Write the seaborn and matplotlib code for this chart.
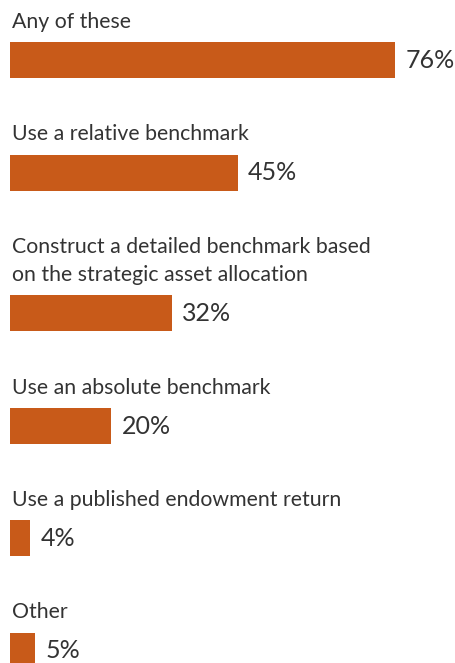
import matplotlib
matplotlib.use("Agg")
import matplotlib.pyplot as plt
import seaborn as sns
import pandas as pd
import numpy as np

# ---- data ----
categories = [
    "Any of these",
    "Use a relative benchmark",
    "Construct a detailed benchmark based\non the strategic asset allocation",
    "Use an absolute benchmark",
    "Use a published endowment return",
    "Other",
]
values = [76, 45, 32, 20, 4, 5]
value_labels = ["76%", "45%", "32%", "20%", "4%", "5%"]

# ---- layout (pixel-based) ----
W, H = 455, 663
DPI = 100
BAR_COLOR = "#C85A19"
TEXT_COLOR = "#333333"
FONT = ["Lato", "DejaVu Sans"]

first_center = 60.0
block_step = 112.5
line_step = 28.0
bar_h = 36.0
px_per_pct = 5.07
x_left_px = 10.0

extra_lines = np.cumsum([c.count("\n") for c in categories])
centers = [first_center + block_step * i + line_step * extra_lines[i]
           for i in range(len(categories))]

df = pd.DataFrame({"value": values, "pos": centers})

sns.set_theme(style="white")
plt.rcParams["font.family"] = FONT

fig = plt.figure(figsize=(W / DPI, H / DPI), dpi=DPI)
ax = fig.add_axes([0, 0, 1, 1])

min_gap = np.min(np.diff(sorted(centers)))
sns.barplot(data=df, x="value", y="pos", orient="y", native_scale=True,
            color=BAR_COLOR, saturation=1, width=bar_h / min_gap,
            linewidth=0, ax=ax)

ax.set_xlim(-x_left_px / px_per_pct, (W - x_left_px) / px_per_pct)
ax.set_ylim(H, 0)
ax.axis("off")

for cat, v, lab, c in zip(categories, values, value_labels, centers):
    lines = cat.split("\n")
    base = c - bar_h / 2 - 14
    for j, ln in enumerate(reversed(lines)):
        ax.text(0.3, base - j * line_step, ln, ha="left", va="baseline",
                fontsize=15.3, color=TEXT_COLOR, family=FONT)
    ax.text(v + 10 / px_per_pct, c + 8, lab, ha="left", va="baseline",
            fontsize=18, color=TEXT_COLOR, family=FONT)

fig.savefig("out.png", dpi=DPI, facecolor="white")
